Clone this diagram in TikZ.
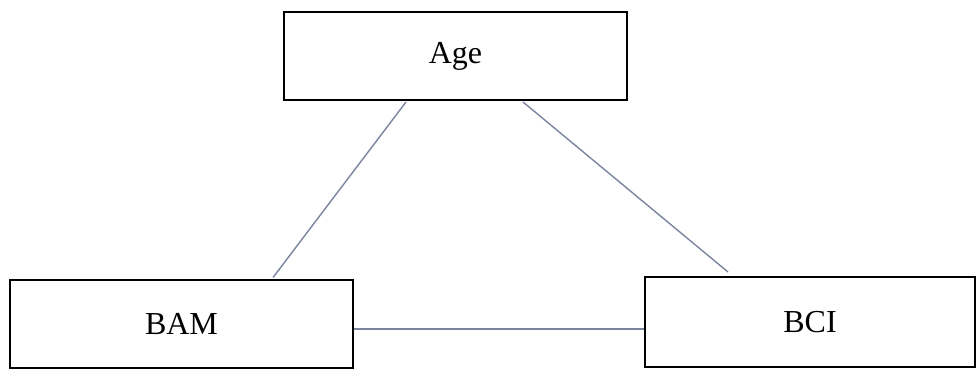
\documentclass[tikz,border=0pt]{standalone}
\usepackage{fontspec}
\setmainfont{Liberation Serif}
\usetikzlibrary{calc}
\definecolor{linkgray}{RGB}{122,132,158}
\tikzset{
  varbox/.style={draw=black, line width=1pt, fill=white, inner sep=0pt,
    font=\fontsize{16}{19}\selectfont, text=black},
  link/.style={draw=linkgray, line width=0.7pt}
}
\begin{document}
\begin{tikzpicture}[x=0.5pt, y=-0.5pt]
  \useasboundingbox (0,0) rectangle (978,369);
  % variable boxes
  \node[varbox, minimum width=171.5pt, minimum height=44pt] (age) at (455.5,56) {Age};
  \node[varbox, minimum width=171.5pt, minimum height=44pt] (bam) at (181.5,323.5) {BAM};
  \node[varbox, minimum width=165pt, minimum height=45pt] (bci) at (810,322) {BCI};
  % associations between the variables
  \draw[link] ($(age.south)+(-49.5,1)$) -- ($(bam.north)+(91.5,-1)$);
  \draw[link] ($(age.south)+(67.5,1)$) -- ($(bci.north)+(-82,-4)$);
  \draw[link] ($(bam.east)+(0,5.5)$) -- ($(bci.west)+(0,7)$);
\end{tikzpicture}
\end{document}
